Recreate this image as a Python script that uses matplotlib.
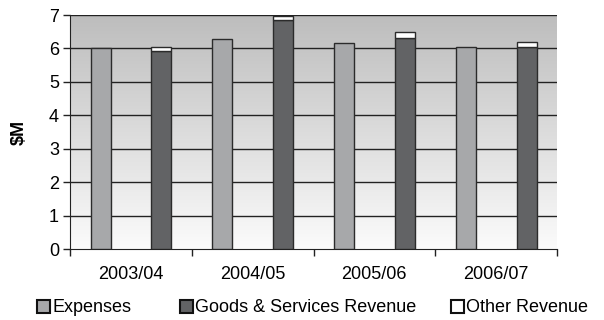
import numpy as np
import matplotlib
matplotlib.use("Agg")
import matplotlib.pyplot as plt
from matplotlib.patches import Patch

plt.rcParams["font.family"] = ["Liberation Sans", "DejaVu Sans"]

# data ($M)
years = ["2003/04", "2004/05", "2005/06", "2006/07"]
expenses = [6.00, 6.27, 6.15, 6.04]
goods_services = [5.93, 6.85, 6.32, 6.04]
other_revenue = [0.10, 0.12, 0.16, 0.16]

C_EXP = "#a7a8aa"
C_GS = "#626365"
C_OTHER = "#ffffff"
EDGE = "#2b2b2b"

fig = plt.figure(figsize=(6.04, 3.2), dpi=100)
ax = fig.add_axes([70 / 604, 1 - 249 / 320, 487 / 604, 234 / 320])

# grey-to-white vertical gradient behind the plot area
grad = np.linspace(0, 1, 256).reshape(-1, 1)
ax.imshow(grad, extent=[0, 1, 0, 1], transform=ax.transAxes,
          cmap=matplotlib.colors.LinearSegmentedColormap.from_list(
              "bg", ["#fbfbfb", "#bdbdbd"]),
          origin="lower", aspect="auto", zorder=0)

x = np.arange(len(years))
w = 0.165
ax.bar(x - 0.248, expenses, w, color=C_EXP, edgecolor=EDGE, linewidth=1, zorder=3)
ax.bar(x + 0.25, goods_services, w, color=C_GS, edgecolor=EDGE, linewidth=1, zorder=3)
ax.bar(x + 0.25, other_revenue, w, bottom=goods_services, color=C_OTHER,
       edgecolor=EDGE, linewidth=1, zorder=3)

ax.set_xlim(-0.5, 3.5)
ax.set_ylim(0, 7)
ax.set_yticks(range(8))
for yv in range(1, 8):
    ax.axhline(yv, color="#222222", lw=1, zorder=1)

# category boundaries as major ticks, labels on minor ticks
ax.set_xticks(np.arange(-0.5, 4, 1))
ax.set_xticklabels([])
ax.set_xticks(x, minor=True)
ax.set_xticklabels(years, minor=True)
ax.tick_params(axis="x", which="major", direction="out", length=5, width=1, color="#222222")
ax.tick_params(axis="x", which="minor", length=0, pad=12, labelsize=13)
ax.tick_params(axis="y", direction="out", length=5, width=1, color="#222222",
               labelsize=13, pad=3)

for s in ["top", "right"]:
    ax.spines[s].set_visible(False)
ax.spines["left"].set_color("#222222")
ax.spines["bottom"].set_color("#222222")

fig.text(19 / 604, 1 - 132 / 320, "$M", rotation=90, fontsize=13, fontweight="bold",
         ha="center", va="center")

# legend entries placed individually along the bottom
entries = [("Expenses", C_EXP, 37), ("Goods & Services Revenue", C_GS, 180),
           ("Other Revenue", C_OTHER, 451)]
for label, col, px in entries:
    fig.legend(handles=[Patch(facecolor=col, edgecolor="#111111", linewidth=1.5)],
               labels=[label], loc="center left",
               bbox_to_anchor=(px / 604, 1 - 308 / 320), frameon=False,
               fontsize=13, handlelength=0.72, handleheight=0.72,
               handletextpad=0.12, borderpad=0, borderaxespad=0)

fig.savefig("out.png", dpi=100)
